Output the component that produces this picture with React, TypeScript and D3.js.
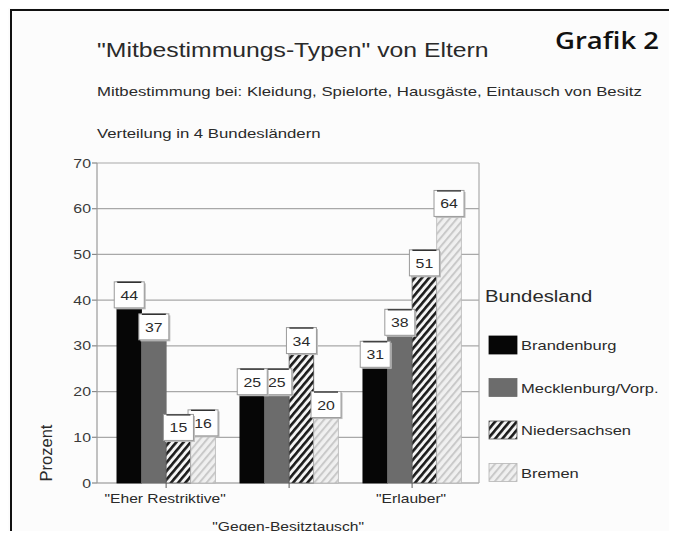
import * as d3 from "d3";

const categories = ['"Eher Restriktive"', '"Gegen-Besitztausch"', '"Erlauber"'];
const laender = ["Brandenburg", "Mecklenburg/Vorp.", "Niedersachsen", "Bremen"];
const brandenburg = [44, 25, 31];
const mecklenburg = [37, 25, 38];
const niedersachsen = [15, 34, 51];
const bremen = [16, 20, 64];
const yTicks = [0, 10, 20, 30, 40, 50, 60, 70];

const seriesValues = [brandenburg, mecklenburg, niedersachsen, bremen];
const fills = ["#060606", "#6c6c6c", "url(#hatchDark)", "url(#hatchLight)"];
const strokes = ["#060606", "#6c6c6c", "#555", "#b5b5b5"];

const SX = 1.27; // the scan is stretched sideways
const font = "'Liberation Sans', Arial, sans-serif";

function T({ x, y, size, anchor = "start", fill = "#2a2a2a", weight = 400, children }) {
    return (
        <text
            transform={`translate(${x},${y}) scale(${SX},1)`}
            fontSize={size}
            textAnchor={anchor}
            fill={fill}
            fontWeight={weight}
            fontFamily={font}
        >
            {children}
        </text>
    );
}

export default function App() {
    const width = 677;
    const height = 539;
    const left = 97;
    const right = 479;
    const top = 163;
    const bottom = 483;

    const x = d3.scaleBand()
        .domain(categories)
        .range([left, right])
        .paddingInner(0.2)
        .paddingOuter(0.153)
        .align(0.53);

    const xInner = d3.scaleBand()
        .domain(laender)
        .range([0, x.bandwidth()]);

    const y = d3.scaleLinear().domain([0, 70]).range([bottom, top]);

    const boxW = 30;
    const boxH = 26;

    return (
        <div style={{ margin: -8 }}>
            <svg width={width} height={height} style={{ display: "block", background: "#fcfcfc" }}>
                <defs>
                    <pattern id="hatchDark" width={5.5} height={6} patternUnits="userSpaceOnUse" patternTransform="rotate(40)">
                        <rect width={5.5} height={6} fill="#f4f4f4" />
                        <rect width={2.6} height={6} fill="#1a1a1a" />
                    </pattern>
                    <pattern id="hatchLight" width={5.5} height={6} patternUnits="userSpaceOnUse" patternTransform="rotate(40)">
                        <rect width={5.5} height={6} fill="#f0f0f0" />
                        <rect width={2} height={6} fill="#c9c9c9" />
                    </pattern>
                </defs>

                {/* frame */}
                <line x1={10} x2={677} y1={10} y2={10} stroke="#111" strokeWidth={2} />
                <line x1={11} x2={11} y1={10} y2={539} stroke="#111" strokeWidth={2} />

                {/* titles */}
                <T x={97} y={57} size={19.5}>"Mitbestimmungs-Typen" von Eltern</T>
                <T x={97} y={96} size={13.2}>Mitbestimmung bei: Kleidung, Spielorte, Hausgäste, Eintausch von Besitz</T>
                <T x={97} y={138} size={13.2}>Verteilung in 4 Bundesländern</T>
                <text x={555} y={49} fontSize={24} fontWeight={600} fontFamily="'Open Sans', sans-serif"
                    fill="#111" textLength={104} lengthAdjust="spacingAndGlyphs">Grafik 2</text>

                {/* grid + axes */}
                {yTicks.map(t => (
                    <g key={t}>
                        <line x1={left} x2={right} y1={y(t)} y2={y(t)} stroke={t === 0 ? "#888" : "#a8a8a8"} strokeWidth={1.2} />
                        <line x1={left - 5} x2={left} y1={y(t)} y2={y(t)} stroke="#888" strokeWidth={1.2} />
                        <T x={left - 6} y={y(t) + 4.5} size={12.5} anchor="end" fill="#3a3a3a">{t}</T>
                    </g>
                ))}
                <line x1={left} x2={left} y1={top} y2={bottom} stroke="#999" strokeWidth={1.2} />
                <line x1={right} x2={right} y1={top} y2={bottom} stroke="#aaa" strokeWidth={1.2} />
                {categories.map(c => (
                    <line key={c} x1={x(c) + x.bandwidth() / 2} x2={x(c) + x.bandwidth() / 2}
                        y1={bottom} y2={bottom + 5} stroke="#777" strokeWidth={1.2} />
                ))}

                <text transform={`translate(52,453) rotate(-90)`} fontSize={16.5} textAnchor="middle"
                    fill="#2a2a2a" fontFamily={font}>Prozent</text>

                {/* bars */}
                {categories.map((c, i) => (
                    <g key={c}>
                        {seriesValues.map((vals, s) => (
                            <rect
                                key={s}
                                x={x(c) + xInner(laender[s])}
                                y={y(vals[i])}
                                width={xInner.bandwidth()}
                                height={y(0) - y(vals[i])}
                                fill={fills[s]}
                                stroke={strokes[s]}
                                strokeWidth={0.8}
                            />
                        ))}
                    </g>
                ))}

                {/* value boxes, later series underneath */}
                {categories.map((c, i) => (
                    <g key={c}>
                        {[3, 2, 1, 0].map(s => {
                            const cx = x(c) + xInner(laender[s]) + xInner.bandwidth() / 2;
                            const ty = y(seriesValues[s][i]);
                            return (
                                <g key={s}>
                                    <rect x={cx - boxW / 2 + 1.5} y={ty + 1.5} width={boxW} height={boxH} fill="#bdbdbd" />
                                    <rect x={cx - boxW / 2} y={ty} width={boxW} height={boxH} fill="#fff" stroke="#9a9a9a" strokeWidth={1} />
                                    <line x1={cx - boxW / 2 + 3} x2={cx + boxW / 2 - 3} y1={ty + 0.5} y2={ty + 0.5} stroke="#333" strokeWidth={1.3} />
                                    <T x={cx} y={ty + 18} size={12.5} anchor="middle" fill="#2a2a2a">{seriesValues[s][i]}</T>
                                </g>
                            );
                        })}
                    </g>
                ))}

                {/* category labels, staggered */}
                {categories.map((c, i) => (
                    <T key={c} x={x(c) + x.bandwidth() / 2 - 1} y={i === 1 ? 531 : 503} size={12.3} anchor="middle">{c}</T>
                ))}

                {/* legend */}
                <T x={485} y={302} size={16}>Bundesland</T>
                {laender.map((name, s) => {
                    const ly = 336 + s * 42.5;
                    return (
                        <g key={name}>
                            <rect x={489} y={ly} width={28} height={18} fill={fills[s]} stroke={strokes[s]} strokeWidth={0.8} />
                            <T x={521} y={ly + 14} size={13}>{name}</T>
                        </g>
                    );
                })}
            </svg>
        </div>
    );
}
